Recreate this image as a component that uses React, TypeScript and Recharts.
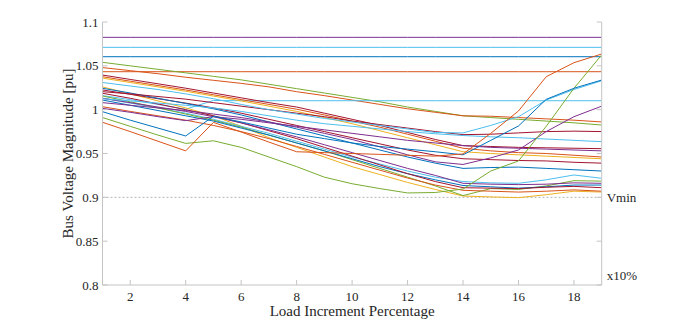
import React from "react";
import { LineChart, Line, XAxis, YAxis, ReferenceLine, Label } from "recharts";

const loadSteps = [1, 2, 3, 4, 5, 6, 7, 8, 9, 10, 11, 12, 13, 14, 15, 16, 17, 18, 19];
const xTicks = [2, 4, 6, 8, 10, 12, 14, 16, 18];
const yTicks = [0.8, 0.85, 0.9, 0.95, 1, 1.05, 1.1];

const busH1 = [1.0825, 1.0825, 1.0825, 1.0825, 1.0825, 1.0825, 1.0825, 1.0825, 1.0825, 1.0825, 1.0825, 1.0825, 1.0825, 1.0825, 1.0825, 1.0825, 1.0825, 1.0825, 1.0825];
const busH2 = [1.0711, 1.0711, 1.0711, 1.0711, 1.0711, 1.0711, 1.0711, 1.0711, 1.0711, 1.0711, 1.0711, 1.0711, 1.0711, 1.0711, 1.0711, 1.0711, 1.0711, 1.0711, 1.0711];
const busH3 = [1.0604, 1.0604, 1.0604, 1.0604, 1.0604, 1.0604, 1.0604, 1.0604, 1.0604, 1.0604, 1.0604, 1.0604, 1.0604, 1.0604, 1.0604, 1.0604, 1.0604, 1.0604, 1.0604];
const busH4 = [1.0433, 1.0433, 1.0433, 1.0433, 1.0433, 1.0433, 1.0433, 1.0433, 1.0433, 1.0433, 1.0433, 1.0433, 1.0433, 1.0433, 1.0433, 1.0433, 1.0433, 1.0433, 1.0433];
const busA = [1.054, 1.050, 1.046, 1.042, 1.038, 1.034, 1.029, 1.024, 1.019, 1.014, 1.009, 1.003, 0.998, 0.993, 0.991, 0.989, 0.987, 0.985, 0.9825];
const busB = [1.048, 1.0445, 1.041, 1.037, 1.0335, 1.030, 1.026, 1.0205, 1.016, 1.011, 1.006, 1.001, 0.997, 0.993, 0.9925, 0.991, 0.9895, 0.988, 0.986];
const busC = [1.016, 1.0115, 1.006, 1.0005, 1.0105, 1.0102, 1.0102, 1.0102, 1.0102, 1.0102, 1.0102, 1.0102, 1.0102, 1.0102, 1.0102, 1.0102, 1.0102, 1.0102, 1.0102];
const busD = [0.9856, 0.975, 0.964, 0.953, 0.9855, 0.9745, 0.963, 0.952, 0.951, 0.950, 0.949, 0.948, 0.947, 0.9495, 0.973, 0.9985, 1.0376, 1.0536, 1.0635];
const busE = [0.9977, 0.988, 0.979, 0.970, 0.9925, 0.986, 0.979, 0.972, 0.967, 0.962, 0.958, 0.955, 0.952, 0.9485, 0.965, 0.9814, 1.0118, 1.0244, 1.0338];
const busF = [0.991, 0.981, 0.971, 0.9615, 0.9645, 0.957, 0.946, 0.935, 0.923, 0.9155, 0.910, 0.905, 0.9055, 0.9095, 0.930, 0.9415, 0.981, 1.0244, 1.0624];
const busG = [1.031, 1.027, 1.023, 1.018, 1.0125, 1.006, 1.000, 0.995, 0.990, 0.986, 0.982, 0.978, 0.974, 0.9735, 0.982, 0.992, 1.011, 1.023, 1.033];
const busH = [1.008, 1.005, 1.002, 0.999, 0.995, 0.991, 0.986, 0.980, 0.973, 0.966, 0.9575, 0.9485, 0.9405, 0.9375, 0.945, 0.954, 0.975, 0.992, 1.004];
const busI = [1.0205, 1.018, 1.015, 1.012, 1.008, 1.004, 1.000, 0.996, 0.992, 0.987, 0.983, 0.979, 0.975, 0.9715, 0.972, 0.9735, 0.975, 0.9755, 0.975];
const busJ = [1.0125, 1.010, 1.0075, 1.005, 1.002, 0.998, 0.993, 0.988, 0.984, 0.981, 0.978, 0.975, 0.9725, 0.9705, 0.969, 0.968, 0.9665, 0.965, 0.9635];
const busK = [1.0395, 1.0345, 1.0295, 1.0245, 1.019, 1.0135, 1.008, 1.003, 0.996, 0.989, 0.982, 0.974, 0.966, 0.959, 0.958, 0.957, 0.9565, 0.956, 0.9555];
const busL = [1.0376, 1.0325, 1.0275, 1.0225, 1.017, 1.0115, 1.006, 1.0005, 0.994, 0.987, 0.980, 0.972, 0.964, 0.956, 0.953, 0.951, 0.950, 0.948, 0.946];
const busM = [1.036, 1.031, 1.026, 1.021, 1.0155, 1.010, 1.004, 0.998, 0.991, 0.984, 0.976, 0.968, 0.960, 0.952, 0.950, 0.9485, 0.947, 0.9455, 0.944];
const busN = [1.026, 1.018, 1.010, 1.002, 0.993, 0.981, 0.968, 0.957, 0.946, 0.935, 0.926, 0.917, 0.909, 0.9015, 0.9005, 0.8996, 0.903, 0.907, 0.906];
const busO = [1.0225, 1.0175, 1.0125, 1.0075, 1.002, 0.996, 0.989, 0.982, 0.975, 0.968, 0.961, 0.954, 0.948, 0.944, 0.943, 0.942, 0.9415, 0.940, 0.939];
const busP = [1.0244, 1.019, 1.013, 1.007, 1.001, 0.994, 0.986, 0.978, 0.970, 0.962, 0.954, 0.946, 0.939, 0.933, 0.934, 0.9345, 0.933, 0.9315, 0.930];
const busQ = [1.013, 1.0075, 1.002, 0.996, 0.989, 0.981, 0.973, 0.964, 0.955, 0.946, 0.938, 0.930, 0.923, 0.918, 0.9165, 0.916, 0.920, 0.9255, 0.9217];
const busR = [1.0156, 1.009, 1.002, 0.995, 0.988, 0.980, 0.971, 0.962, 0.953, 0.943, 0.933, 0.923, 0.913, 0.902, 0.910, 0.909, 0.913, 0.919, 0.9185];
const busS = [1.011, 1.005, 0.999, 0.993, 0.987, 0.979, 0.971, 0.962, 0.953, 0.944, 0.935, 0.927, 0.920, 0.9135, 0.912, 0.9105, 0.912, 0.914, 0.914];
const busT = [1.0187, 1.013, 1.0065, 1.000, 0.993, 0.985, 0.976, 0.967, 0.957, 0.947, 0.937, 0.927, 0.918, 0.911, 0.9105, 0.910, 0.9115, 0.9125, 0.911];
const busU = [1.0034, 0.998, 0.993, 0.988, 0.982, 0.975, 0.967, 0.958, 0.949, 0.940, 0.931, 0.922, 0.914, 0.908, 0.907, 0.906, 0.907, 0.9085, 0.907];
const busV = [1.013, 1.008, 1.003, 0.998, 0.992, 0.985, 0.977, 0.969, 0.960, 0.951, 0.942, 0.933, 0.925, 0.916, 0.915, 0.9145, 0.915, 0.9165, 0.916];
const busW = [1.0015, 0.997, 0.992, 0.9875, 0.992, 0.989, 0.985, 0.981, 0.977, 0.973, 0.969, 0.965, 0.962, 0.959, 0.957, 0.956, 0.955, 0.954, 0.953];

const BLUE = "#0072BD";
const ORANGE = "#D95319";
const YELLOW = "#EDB120";
const PURPLE = "#7E2F8E";
const GREEN = "#77AC30";
const LBLUE = "#4DBEEE";
const MAROON = "#A2142F";

const seriesList: { key: string; values: number[]; color: string }[] = [
  { key: "h1", values: busH1, color: PURPLE },
  { key: "h2", values: busH2, color: LBLUE },
  { key: "h3", values: busH3, color: BLUE },
  { key: "h4", values: busH4, color: ORANGE },
  { key: "a", values: busA, color: GREEN },
  { key: "b", values: busB, color: ORANGE },
  { key: "c", values: busC, color: LBLUE },
  { key: "k", values: busK, color: MAROON },
  { key: "l", values: busL, color: ORANGE },
  { key: "m", values: busM, color: YELLOW },
  { key: "n", values: busN, color: YELLOW },
  { key: "o", values: busO, color: MAROON },
  { key: "p", values: busP, color: BLUE },
  { key: "q", values: busQ, color: LBLUE },
  { key: "r", values: busR, color: GREEN },
  { key: "s", values: busS, color: BLUE },
  { key: "t", values: busT, color: MAROON },
  { key: "u", values: busU, color: ORANGE },
  { key: "v", values: busV, color: PURPLE },
  { key: "w", values: busW, color: PURPLE },
  { key: "i", values: busI, color: MAROON },
  { key: "j", values: busJ, color: LBLUE },
  { key: "h", values: busH, color: PURPLE },
  { key: "g", values: busG, color: LBLUE },
  { key: "f", values: busF, color: GREEN },
  { key: "e", values: busE, color: BLUE },
  { key: "d", values: busD, color: ORANGE },
];

const data = loadSteps.map((x, i) => {
  const row: Record<string, number> = { x };
  seriesList.forEach((s) => {
    row[s.key] = s.values[i];
  });
  return row;
});

const FONT = "'Liberation Serif', 'Times New Roman', serif";
const AXIS = "#c4c4c4";
const TEXT = "#262626";

const fmt = (v: number) => String(Number(v.toFixed(2)));

const BottomTick = (props: any) => {
  const { x, y, payload } = props;
  return (
    <text x={x} y={y} dy="0.71em" textAnchor="middle" fontSize={13} fontFamily={FONT} fill={TEXT} style={{ fontFamily: FONT }}>
      {fmt(payload.value)}
    </text>
  );
};

const LeftTick = (props: any) => {
  const { x, y, payload } = props;
  return (
    <text x={x} y={y} dy="0.35em" textAnchor="end" fontSize={13} fontFamily={FONT} fill={TEXT} style={{ fontFamily: FONT }}>
      {fmt(payload.value)}
    </text>
  );
};

const RightTick = (props: any) => {
  const { x, y, payload } = props;
  const v = Number(payload.value.toFixed(2));
  if (v === 0.9) {
    return (
      <text x={x} y={y} dy="0.35em" textAnchor="start" fontSize={13} fontFamily={FONT} fill={TEXT} style={{ fontFamily: FONT }}>
        Vmin
      </text>
    );
  }
  if (v === 0.8) {
    return (
      <text x={x} y={y - 10} dy="0.35em" textAnchor="start" fontSize={13} fontFamily={FONT} fill={TEXT} style={{ fontFamily: FONT }}>
        x10%
      </text>
    );
  }
  return null;
};

export default function App() {
  return (
    <div style={{ position: "absolute", left: 0, top: 0, width: 683, height: 330, background: "#fff", fontFamily: FONT }}>
      <LineChart width={683} height={330} data={data} margin={{ top: 22, right: 0, bottom: 0, left: 0 }} style={{ fontFamily: FONT }}>
        <XAxis
          dataKey="x"
          type="number"
          domain={[1, 19]}
          ticks={xTicks}
          allowDataOverflow
          height={45}
          stroke={AXIS}
          tickSize={-5}
          tickMargin={12}
          tick={<BottomTick />}
        >
          <Label
            content={(p: any) => {
              const vb = p.viewBox;
              return (
                <text x={vb.x + vb.width / 2} y={316} textAnchor="middle" fontSize={15} fontFamily={FONT} fill={TEXT} style={{ fontFamily: FONT }}>
                  Load Increment Percentage
                </text>
              );
            }}
          />
        </XAxis>
        <XAxis
          xAxisId="top"
          orientation="top"
          dataKey="x"
          type="number"
          domain={[1, 19]}
          ticks={xTicks}
          allowDataOverflow
          height={0}
          stroke={AXIS}
          tickSize={-5}
          tick={false}
        />
        <YAxis
          yAxisId="left"
          type="number"
          domain={[0.8, 1.1]}
          ticks={yTicks}
          allowDataOverflow
          width={102.5}
          stroke={AXIS}
          tickSize={-5}
          tickMargin={9}
          tick={<LeftTick />}
        >
          <Label
            content={(p: any) => {
              const vb = p.viewBox;
              const cy = vb.y + vb.height / 2;
              return (
                <text
                  x={68}
                  y={cy}
                  transform={`rotate(-90, 68, ${cy})`}
                  textAnchor="middle"
                  dy="0.35em"
                  fontSize={15}
                  fontFamily={FONT}
                  fill={TEXT}
                  style={{ fontFamily: FONT }}
                >
                  Bus Voltage Magnitude [pu]
                </text>
              );
            }}
          />
        </YAxis>
        <YAxis
          yAxisId="right"
          orientation="right"
          type="number"
          domain={[0.8, 1.1]}
          ticks={yTicks}
          allowDataOverflow
          width={81.3}
          stroke={AXIS}
          tickSize={-5}
          tickMargin={10}
          tick={<RightTick />}
        />
        <ReferenceLine yAxisId="left" y={0.9} stroke="#b5b5b5" strokeDasharray="2 2" strokeWidth={1} />
        {seriesList.map((s) => (
          <Line
            key={s.key}
            yAxisId="left"
            dataKey={s.key}
            stroke={s.color}
            strokeWidth={1}
            dot={false}
            activeDot={false}
            type="linear"
            isAnimationActive={false}
          />
        ))}
      </LineChart>
    </div>
  );
}
